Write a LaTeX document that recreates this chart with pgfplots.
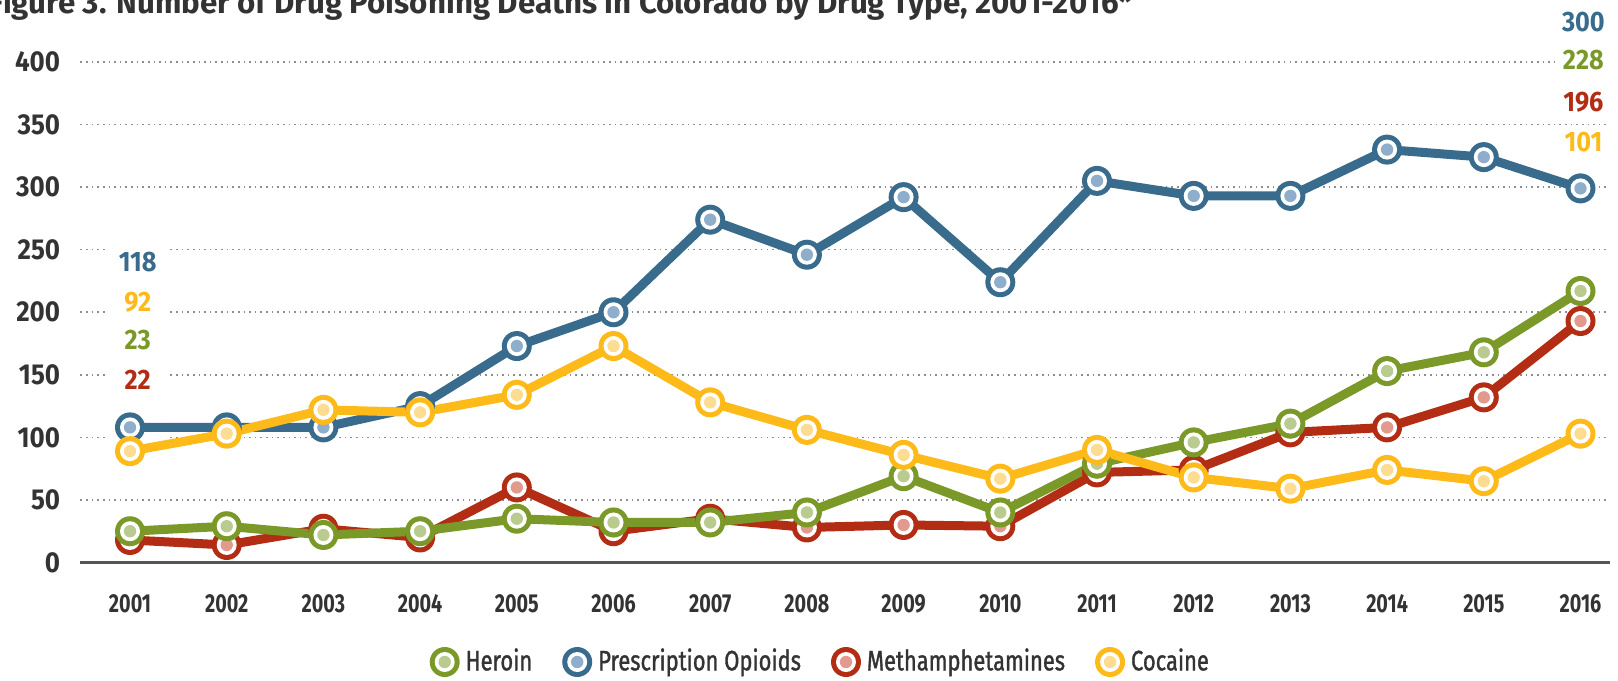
\documentclass[border=0pt]{standalone}
\usepackage{fontspec}
\setmainfont{Fira Sans}
\newfontfamily\xtfont[FakeStretch=0.76]{Fira Sans}
\newfontfamily\numfont[FakeStretch=0.9]{Fira Sans}
\newfontfamily\legfont[FakeStretch=0.78,FakeBold=1.2]{Fira Sans}
\usepackage{pgfplots}
\pgfplotsset{compat=1.18}
\definecolor{cB}{HTML}{386B8C}
\definecolor{cBl}{HTML}{8FAECB}
\definecolor{cG}{HTML}{7A9928}
\definecolor{cGl}{HTML}{BACB8F}
\definecolor{cR}{HTML}{B22D14}
\definecolor{cRl}{HTML}{E39A8E}
\definecolor{cY}{HTML}{FDBA18}
\definecolor{cYl}{HTML}{FEDD92}
\definecolor{tgray}{HTML}{333333}
\definecolor{axgray}{HTML}{555555}
\definecolor{gridgray}{HTML}{8E8E8E}
\newcommand{\defring}[3]{%
\pgfdeclareplotmark{#1}{%
  \pgfpathcircle{\pgfpointorigin}{1.5mm}\pgfsetfillcolor{#2}\pgfusepath{fill}%
  \pgfpathcircle{\pgfpointorigin}{1.0mm}\pgfsetfillcolor{white}\pgfusepath{fill}%
  \pgfpathcircle{\pgfpointorigin}{0.62mm}\pgfsetfillcolor{#3}\pgfusepath{fill}}}
\defring{ringB}{cB}{cBl}
\defring{ringG}{cG}{cGl}
\defring{ringR}{cR}{cRl}
\defring{ringY}{cY}{cYl}
\begin{document}
\begin{tikzpicture}
\useasboundingbox (0,0) rectangle (16.18,6.8);
\node[anchor=base west, font=\fontsize{8.9}{10}\selectfont\bfseries, text=tgray, inner sep=0] at (-0.12,6.67) {Figure 3. Number of Drug Poisoning Deaths in Colorado by Drug Type, 2001-2016*};
\begin{axis}[
  at={(0.805cm,1.175cm)}, anchor=south west, scale only axis,
  width=15.295cm, height=5.005cm,
  xmin=2000.488, xmax=2016.305, ymin=0, ymax=400,
  clip=false,
  axis x line*=bottom, axis y line*=left,
  x axis line style={draw=axgray, line width=0.6pt, -},
  y axis line style={draw=none},
  major tick length=0,
  xtick={2001,2002,2003,2004,2005,2006,2007,2008,2009,2010,2011,2012,2013,2014,2015,2016},
  xticklabels={2001,2002,2003,2004,2005,2006,2007,2008,2009,2010,2011,2012,2013,2014,2015,2016},
  ytick={0,50,100,150,200,250,300,350,400},
  /pgf/number format/assume math mode=true,
  yticklabel style={font=\numfont\fontsize{8.2}{9}\selectfont\bfseries, text=tgray, xshift=-0.08cm},
  xticklabel style={font=\xtfont\fontsize{7.4}{8}\selectfont\bfseries, text=tgray, yshift=-0.2cm},
  ymajorgrids,
  grid style={draw=gridgray, line width=0.45pt, dash pattern=on 0.45pt off 1.15pt},
  legend style={at={(axis description cs:0.4850,-0.1988)}, anchor=center, draw=none, fill=none,
    legend columns=-1, font=\legfont\fontsize{8}{9}\selectfont, text=tgray,
    nodes={inner xsep=0.06cm, inner ysep=0pt},
    /tikz/every even column/.append style={column sep=0.24cm}},
  legend cell align=left,
]
\fill[white] (axis cs:2000.78,95) rectangle (axis cs:2001.39,255);
\addplot[cB, line width=0.09cm, line join=round, mark=ringB, forget plot] coordinates {
(2001,108) (2002,108) (2003,108) (2004,125) (2005,173) (2006,200) (2007,274) (2008,246)
(2009,292) (2010,224) (2011,305) (2012,293) (2013,293) (2014,330) (2015,324) (2016,299)};
\addplot[cR, line width=0.09cm, line join=round, mark=ringR, forget plot] coordinates {
(2001,18) (2002,14) (2003,27) (2004,20) (2005,60) (2006,25) (2007,35) (2008,28)
(2009,30) (2010,29) (2011,72) (2012,74) (2013,104) (2014,108) (2015,132) (2016,193)};
\addplot[cG, line width=0.09cm, line join=round, mark=ringG, forget plot] coordinates {
(2001,25) (2002,29) (2003,22) (2004,25) (2005,35) (2006,32) (2007,32) (2008,40)
(2009,69) (2010,40) (2011,79) (2012,96) (2013,111) (2014,153) (2015,168) (2016,217)};
\addplot[cY, line width=0.09cm, line join=round, mark=ringY, forget plot] coordinates {
(2001,89) (2002,103) (2003,122) (2004,120) (2005,134) (2006,173) (2007,128) (2008,106)
(2009,86) (2010,67) (2011,90) (2012,68) (2013,59) (2014,74) (2015,65) (2016,103)};
\addlegendimage{legend image code/.code={\pgfuseplotmark{ringG}}}
\addlegendentry{Heroin}
\addlegendimage{legend image code/.code={\pgfuseplotmark{ringB}}}
\addlegendentry{Prescription Opioids}
\addlegendimage{legend image code/.code={\pgfuseplotmark{ringR}}}
\addlegendentry{Methamphetamines}
\addlegendimage{legend image code/.code={\pgfuseplotmark{ringY}}}
\addlegendentry{Cocaine}
\tikzset{vl/.style={font=\numfont\fontsize{8}{9}\selectfont\bfseries, inner xsep=0.06cm, inner ysep=0.02cm}}
\node[vl, text=cB] at (axis cs:2001.08,240) {118};
\node[vl, text=cY] at (axis cs:2001.08,208) {92};
\node[vl, text=cG] at (axis cs:2001.08,178) {23};
\node[vl, text=cR] at (axis cs:2001.08,146) {22};
\node[vl, text=cB, fill=white] at (axis cs:2016.03,432) {300};
\node[vl, text=cG, fill=white] at (axis cs:2016.03,401.6) {228};
\node[vl, text=cR, fill=white] at (axis cs:2016.03,368) {196};
\node[vl, text=cY, fill=white] at (axis cs:2016.03,336) {101};
\end{axis}
\end{tikzpicture}
\end{document}
